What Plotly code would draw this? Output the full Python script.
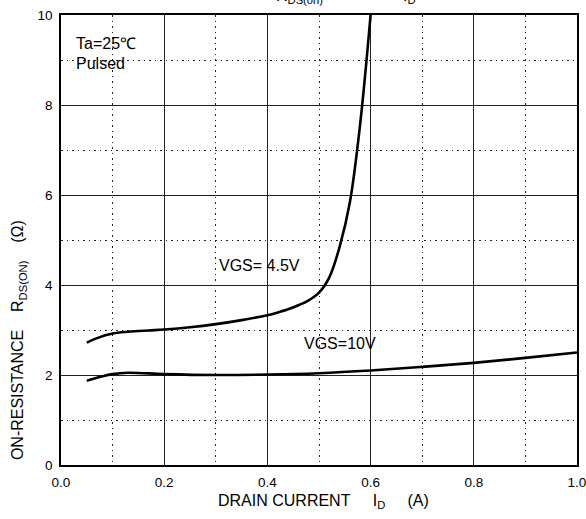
import plotly.graph_objects as go

# Data
id_45 = [0.05, 0.07, 0.10, 0.13, 0.17, 0.20, 0.25, 0.30, 0.35, 0.40, 0.42, 0.44, 0.46, 0.48, 0.50, 0.52, 0.54, 0.56, 0.58, 0.60]
rds_45 = [2.72, 2.82, 2.92, 2.96, 2.99, 3.01, 3.06, 3.13, 3.22, 3.33, 3.39, 3.46, 3.55, 3.66, 3.83, 4.17, 4.85, 5.85, 7.60, 10.0]

id_10 = [0.05, 0.08, 0.10, 0.13, 0.20, 0.30, 0.40, 0.50, 0.60, 0.70, 0.80, 0.90, 1.00]
rds_10 = [1.87, 1.97, 2.02, 2.05, 2.02, 2.00, 2.01, 2.04, 2.10, 2.18, 2.27, 2.38, 2.50]

x_ticks = [0.0, 0.2, 0.4, 0.6, 0.8, 1.0]
x_labels = ["0.0", "0.2", "0.4", "0.6", "0.8", "1.0"]
y_ticks = [0, 2, 4, 6, 8, 10]
y_labels = ["0", "2", "4", "6", "8", "10"]

FONT = "Liberation Sans, Arial, sans-serif"
NB = "\u00a0"

fig = go.Figure()
fig.add_trace(go.Scatter(x=id_45, y=rds_45, mode="lines", line=dict(color="black", width=2.6, shape="spline", smoothing=1.0), showlegend=False, hoverinfo="skip"))
fig.add_trace(go.Scatter(x=id_10, y=rds_10, mode="lines", line=dict(color="black", width=2.6, shape="spline", smoothing=1.0), showlegend=False, hoverinfo="skip"))

axis_common = dict(
    showline=True, linecolor="black", linewidth=1.5, mirror=True,
    showgrid=True, gridcolor="#222", gridwidth=1, automargin=False,
    ticklabeloverflow="allow",
    zeroline=False, ticks="", tickfont=dict(family=FONT, size=13.5, color="black"),
)

fig.update_xaxes(range=[0, 1], tickmode="array", tickvals=x_ticks, ticktext=x_labels,
                 minor=dict(tickmode="array", tickvals=[0.1, 0.3, 0.5, 0.7, 0.9], showgrid=True,
                            gridcolor="#222", gridwidth=1, griddash="1.5px,4px"),
                 ticklabelstandoff=4, **axis_common)
fig.update_yaxes(range=[0, 10], tickmode="array", tickvals=y_ticks, ticktext=y_labels,
                 minor=dict(tickmode="array", tickvals=[1, 3, 5, 7, 9], showgrid=True,
                            gridcolor="#222", gridwidth=1, griddash="1.5px,4px"),
                 ticklabelstandoff=4, **axis_common)

ann = []
ann.append(dict(text="Ta=25℃", xref="x", yref="y", x=0.025, y=9.36, xanchor="left", yanchor="middle",
                showarrow=False, font=dict(family=FONT, size=16, color="black")))
ann.append(dict(text="Pulsed", xref="x", yref="y", x=0.025, y=8.93, xanchor="left", yanchor="middle",
                showarrow=False, font=dict(family=FONT, size=16, color="black")))
ann.append(dict(text="VGS= 4.5V", xref="x", yref="y", x=0.303, y=4.44, xanchor="left", yanchor="middle",
                showarrow=False, font=dict(family=FONT, size=16, color="black")))
ann.append(dict(text="VGS=10V", xref="x", yref="y", x=0.468, y=2.71, xanchor="left", yanchor="middle",
                showarrow=False, font=dict(family=FONT, size=16, color="black")))
# axis titles
ann.append(dict(text="DRAIN CURRENT" + NB * 5 + "I<sub>D</sub>" + NB * 5 + "(A)", xref="x", yref="paper",
                x=0.508, y=-0.082, xanchor="center", yanchor="middle", showarrow=False,
                font=dict(family=FONT, size=16, color="black")))
ann.append(dict(text="ON-RESISTANCE" + NB * 4 + "R<sub>DS(ON)</sub>" + NB * 4 + "(Ω)", xref="paper", yref="paper",
                x=-0.081, y=0.278, xanchor="center", yanchor="middle", textangle=-90, showarrow=False,
                font=dict(family=FONT, size=16, color="black")))
# title, mostly cut off at the top of the page as in the reference
ann.append(dict(text="R<sub>DS(on)</sub>" + NB * 18 + "I<sub>D</sub>", xref="x", yref="paper",
                x=0.553, y=1.0, xanchor="center", yanchor="bottom", yshift=7, showarrow=False,
                font=dict(family=FONT, size=16, color="black")))

fig.update_layout(
    width=586, height=519,
    margin=dict(l=61, r=9, t=15, b=54),
    paper_bgcolor="white", plot_bgcolor="white",
    annotations=ann,
)

fig.write_html("out.html", config={"displayModeBar": False},
               post_script="document.body.style.margin='0';document.body.style.overflow='hidden';")
